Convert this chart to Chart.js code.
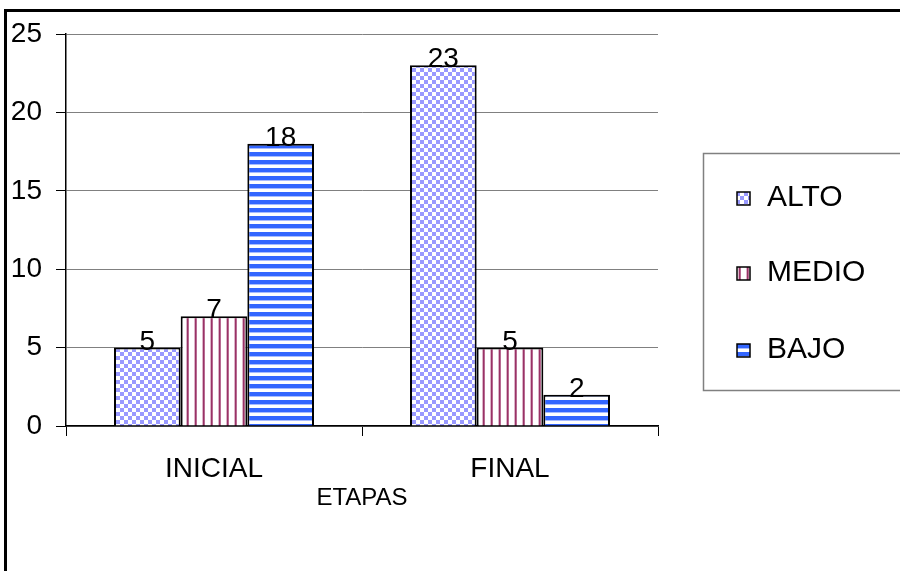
<!DOCTYPE html>
<html lang="es">
<head>
<meta charset="UTF-8">
<title>Etapas</title>
<script src="https://cdn.jsdelivr.net/npm/chart.js@4"></script>
<style>
  body { margin: 0; background: #fff; }
</style>
</head>
<body>
<canvas id="etapasChart" width="900" height="571"></canvas>
<script>
// datos
const etapas = ['INICIAL', 'FINAL'];
const alto = [5, 23];
const medio = [7, 5];
const bajo = [18, 2];
const yMax = 25;
const yStep = 5;

const FONT = "'Liberation Sans', Arial, sans-serif";

// tramas tipo Excel
function makePattern(draw) {
  const c = document.createElement('canvas');
  c.width = 8; c.height = 8;
  const g = c.getContext('2d');
  g.fillStyle = '#fff';
  g.fillRect(0, 0, 8, 8);
  draw(g);
  return document.getElementById('etapasChart').getContext('2d').createPattern(c, 'repeat');
}
const checker = makePattern(g => {
  g.fillStyle = '#9999ff';
  g.fillRect(0, 0, 4, 4);
  g.fillRect(4, 4, 4, 4);
});
const vstripe = makePattern(g => {
  g.fillStyle = '#dcb3c8';
  g.fillRect(2, 0, 1, 8);
  g.fillStyle = '#993366';
  g.fillRect(3, 0, 1, 8);
  g.fillStyle = '#b86b92';
  g.fillRect(4, 0, 1, 8);
});
const hstripe = makePattern(g => {
  g.fillStyle = '#3366ff';
  g.fillRect(0, 0, 8, 4);
  g.fillStyle = '#a8bcff';
  g.fillRect(0, 4, 8, 1);
});

// marco exterior y fondo
const framePlugin = {
  id: 'frame',
  beforeDraw(chart) {
    const ctx = chart.ctx;
    ctx.save();
    ctx.fillStyle = '#fff';
    ctx.fillRect(0, 0, chart.width, chart.height);
    ctx.strokeStyle = '#000';
    ctx.lineWidth = 3;
    ctx.strokeRect(5.5, 10.5, 1000, 1000);
    ctx.restore();
  }
};

// numeros sobre las barras
const valueLabels = {
  id: 'valueLabels',
  afterDatasetsDraw(chart) {
    const ctx = chart.ctx;
    ctx.save();
    ctx.font = '28px ' + FONT;
    ctx.fillStyle = '#000';
    ctx.textAlign = 'center';
    ctx.textBaseline = 'alphabetic';
    chart.data.datasets.forEach((ds, i) => {
      chart.getDatasetMeta(i).data.forEach((bar, j) => {
        ctx.fillText(ds.data[j], bar.x, bar.y + 2);
      });
    });
    ctx.restore();
  }
};

// leyenda con recuadro
const legendBox = {
  id: 'legendBox',
  afterDraw(chart) {
    const ctx = chart.ctx;
    const rows = [198, 273, 350];
    ctx.save();
    ctx.strokeStyle = '#808080';
    ctx.lineWidth = 1.5;
    ctx.strokeRect(703.5, 153.5, 400, 237);
    ctx.font = '30px ' + FONT;
    ctx.textBaseline = 'middle';
    ctx.textAlign = 'left';
    chart.data.datasets.forEach((ds, i) => {
      const y = rows[i];
      ctx.fillStyle = ds.backgroundColor;
      ctx.fillRect(737, y - 6, 13, 13);
      ctx.strokeStyle = '#000';
      ctx.lineWidth = 1.5;
      ctx.strokeRect(737, y - 6, 13, 13);
      ctx.fillStyle = '#000';
      ctx.fillText(ds.label, 767, y);
    });
    ctx.restore();
  }
};

new Chart(document.getElementById('etapasChart'), {
  type: 'bar',
  data: {
    labels: etapas,
    datasets: [
      { label: 'ALTO', data: alto, backgroundColor: checker },
      { label: 'MEDIO', data: medio, backgroundColor: vstripe },
      { label: 'BAJO', data: bajo, backgroundColor: hstripe }
    ]
  },
  options: {
    responsive: false,
    animation: false,
    devicePixelRatio: 1,
    layout: { padding: { left: 0, top: 34, right: 242, bottom: 58 } },
    datasets: {
      bar: {
        borderColor: '#000',
        borderWidth: 2,
        categoryPercentage: 200 / 296,
        barPercentage: 1
      }
    },
    plugins: {
      legend: { display: false },
      tooltip: { enabled: false }
    },
    scales: {
      x: {
        grid: {
          offset: true,
          drawOnChartArea: true,
          color: c => c.index === 2 ? '#808080' : 'rgba(0,0,0,0)',
          tickColor: '#000',
          tickLength: 10
        },
        border: { color: '#000', width: 1.5 },
        ticks: { color: '#000', font: { family: FONT, size: 28 }, padding: 16 },
        title: {
          display: true,
          text: 'ETAPAS',
          color: '#000',
          font: { family: FONT, size: 24 },
          padding: 0
        },
        afterFit(scale) { scale.height = 87; }
      },
      y: {
        min: 0,
        max: yMax,
        ticks: {
          stepSize: yStep,
          color: '#000',
          font: { family: FONT, size: 28 },
          padding: 14
        },
        grid: { color: '#808080', tickColor: '#000', tickLength: 10 },
        border: { color: '#000', width: 1.5 },
        afterFit(scale) { scale.width = 66; }
      }
    }
  },
  plugins: [framePlugin, valueLabels, legendBox]
});
</script>
</body>
</html>
